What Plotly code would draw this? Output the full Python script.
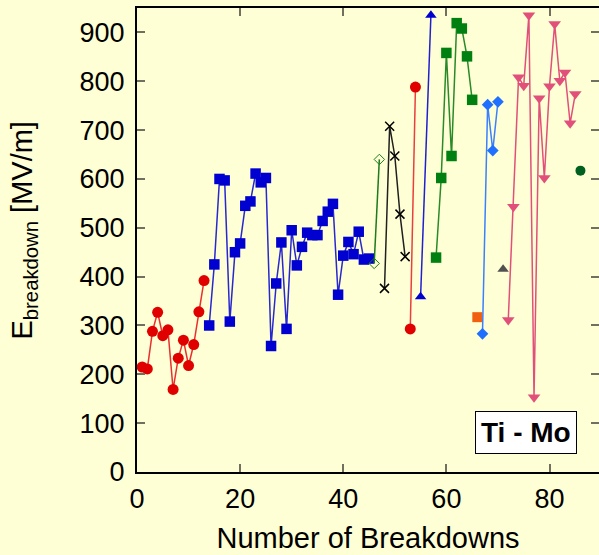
import plotly.graph_objects as go

# ---- data ----
red1_x = list(range(1, 14))
red1_y = [215, 211, 288, 327, 279, 291, 169, 233, 270, 218, 261, 328, 392]

blue_sq_x = list(range(14, 46))
blue_sq_y = [300, 425, 600, 597, 308, 450, 468, 545, 554, 611, 593, 602, 258, 386,
             470, 293, 495, 423, 461, 490, 485, 485, 514, 533, 549, 363, 443, 471,
             446, 492, 435, 437]

green_od_x = [46, 47]
green_od_y = [427, 640]

black_x_x = [48, 49, 50, 51, 52]
black_x_y = [376, 708, 647, 528, 441]

red2_x = [53, 54]
red2_y = [293, 788]

blue_tri_x = [55, 57]
blue_tri_y = [359, 935]

green_sq_x = [58, 59, 60, 61, 62, 63, 64, 65]
green_sq_y = [439, 602, 858, 647, 919, 908, 851, 762]

orange_x = [66]
orange_y = [317]

blue_dia_x = [67, 68, 69, 70]
blue_dia_y = [283, 752, 658, 758]

gray_tri_x = [71]
gray_tri_y = [415]

pink_x = list(range(72, 86))
pink_y = [311, 543, 808, 791, 935, 153, 765, 602, 790, 917, 801, 818, 714, 774]

dkgreen_x = [86]
dkgreen_y = [617]

x_ticks = [0, 20, 40, 60, 80]
y_ticks = [0, 100, 200, 300, 400, 500, 600, 700, 800, 900]

BG = "#FFFFD5"
FONT = "Liberation Sans, Arial, sans-serif"

fig = go.Figure()


def add(x, y, color, symbol, size, line_color=None, mode="lines+markers", lw=1.5,
        mline=None):
    marker = dict(color=color, symbol=symbol, size=size)
    if mline is not None:
        marker["line"] = mline
    fig.add_trace(go.Scatter(
        x=x, y=y, mode=mode,
        line=dict(color=line_color or color, width=lw),
        marker=marker, showlegend=False, cliponaxis=False))


add(red1_x, red1_y, "#E00000", "circle", 11, line_color="#E83030")
add(blue_sq_x, blue_sq_y, "#0000D0", "square", 10.5, line_color="#2828D0")
add(green_od_x, green_od_y, "#1E7A1E", "diamond-open", 8, line_color="#1E7A1E",
    mline=dict(color="#1E7A1E", width=1))
add(black_x_x, black_x_y, "#000000", "x-thin", 9, line_color="#202020",
    mline=dict(color="#000000", width=1.5))
add(red2_x, red2_y, "#E00000", "circle", 11, line_color="#E84040")
add(blue_tri_x, blue_tri_y, "#0000D0", "triangle-up", 10, line_color="#2020D0")
add(green_sq_x, green_sq_y, "#008010", "square", 10.5, line_color="#2A8A2A")
add(orange_x, orange_y, "#F06010", "square", 10, mode="markers")
add(blue_dia_x, blue_dia_y, "#2070FF", "diamond", 9, line_color="#3A80FF")
add(gray_tri_x, gray_tri_y, "#505050", "triangle-up", 10, mode="markers")
add(pink_x, pink_y, "#E0507A", "triangle-down", 11, line_color="#E0507A")
add(dkgreen_x, dkgreen_y, "#006020", "circle", 10, mode="markers")

# empty helper trace so the right-hand tick axis is drawn
fig.add_trace(go.Scatter(x=[None], y=[None], yaxis="y2", showlegend=False,
                         hoverinfo="skip"))

tick_style = dict(ticks="inside", ticklen=8, tickcolor="#707060", tickwidth=2,
                  showgrid=False, zeroline=False)

fig.update_xaxes(range=[0, 89.6], tickvals=x_ticks, ticklabelstandoff=2,
                 showline=True, linecolor="black", linewidth=2, mirror="ticks",
                 tickfont=dict(family=FONT, size=27, color="black"),
                 title=dict(text="Number of Breakdowns",
                            font=dict(family=FONT, size=29, color="black"),
                            standoff=14),
                 **tick_style)
fig.update_yaxes(range=[0, 950], tickvals=y_ticks, ticklabelstandoff=5,
                 showline=True, linecolor="black", linewidth=2, mirror=False,
                 tickfont=dict(family=FONT, size=27, color="black"),
                 **tick_style)
fig.update_layout(yaxis2=dict(range=[0, 950], tickvals=y_ticks, overlaying="y",
                              side="right", showline=False, showticklabels=False,
                              **tick_style))

# y-axis title as a rotated annotation for exact placement
fig.add_annotation(
    x=-0.245, y=0.52, xref="paper", yref="paper",
    xanchor="center", yanchor="middle", textangle=-90,
    text="E<sub>breakdown</sub> [MV/m]", showarrow=False,
    font=dict(family=FONT, size=29, color="black"),
)

fig.add_annotation(
    x=0.842, y=0.0856, xref="paper", yref="paper",
    xanchor="center", yanchor="middle",
    text="<b>Ti - Mo</b>", showarrow=False,
    font=dict(family=FONT, size=28, color="black"),
    bgcolor="white", bordercolor="black", borderwidth=1, borderpad=5,
)

fig.update_layout(
    width=599, height=555,
    margin=dict(l=137, r=0, t=8, b=83),
    paper_bgcolor=BG, plot_bgcolor=BG,
)

fig.write_html("out.html")
